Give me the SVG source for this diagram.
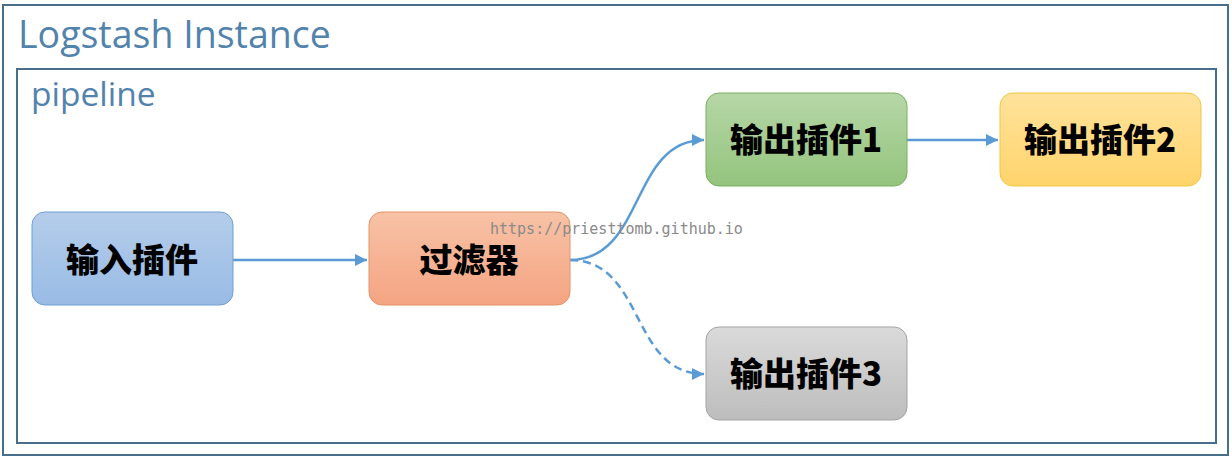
<svg xmlns="http://www.w3.org/2000/svg" width="1232" height="460" viewBox="0 0 1232 460">
<style>
.frame{fill:none;stroke:#476f8c;stroke-width:2}
.title{font-family:"Open Sans","Noto Sans",sans-serif;fill:#5283ad}
.node{stroke-width:1}
.lbl{font-family:"Noto Sans CJK SC","Noto Sans",sans-serif;font-weight:900;font-size:33px;fill:#000;text-anchor:middle}
.conn{fill:none;stroke:#5b9bd5;stroke-width:2.5}
.wm{font-family:"DejaVu Sans Mono",monospace;font-size:15px;fill:#8a8a8a}
</style>
<defs>
<marker id="arr" viewBox="0 0 10 10" refX="10" refY="5" markerWidth="5" markerHeight="5" orient="auto" markerUnits="strokeWidth">
<path d="M0,0 L10,5 L0,10 z" fill="#5b9bd5"/>
</marker>
<linearGradient id="gBlue" x1="0" y1="0" x2="0" y2="1"><stop offset="0" stop-color="#b5cdea"/><stop offset="1" stop-color="#98bbe5"/></linearGradient>
<linearGradient id="gOrange" x1="0" y1="0" x2="0" y2="1"><stop offset="0" stop-color="#f8c2a6"/><stop offset="1" stop-color="#f4a482"/></linearGradient>
<linearGradient id="gGreen" x1="0" y1="0" x2="0" y2="1"><stop offset="0" stop-color="#b6d7a7"/><stop offset="1" stop-color="#93c47d"/></linearGradient>
<linearGradient id="gYellow" x1="0" y1="0" x2="0" y2="1"><stop offset="0" stop-color="#ffe29b"/><stop offset="1" stop-color="#ffd46c"/></linearGradient>
<linearGradient id="gGray" x1="0" y1="0" x2="0" y2="1"><stop offset="0" stop-color="#dadada"/><stop offset="1" stop-color="#bdbdbd"/></linearGradient>
</defs>
<rect width="1232" height="460" fill="#fff"/>
<g id="instance">
<rect class="frame" x="3" y="5" width="1225" height="450"/>
<text class="title" x="18" y="48" font-size="37.5">Logstash Instance</text>
</g>
<g id="pipeline">
<rect class="frame" x="17" y="69" width="1199" height="374"/>
<text class="title" x="31" y="106" font-size="33.5">pipeline</text>
</g>
<g id="connectors">
<path class="conn" d="M233,260 L367,260" marker-end="url(#arr)"/>
<path class="conn" d="M570,260 C645,260 630,140 704,140" marker-end="url(#arr)"/>
<path class="conn" d="M570,260 C645,260 630,374 704,374" stroke-dasharray="8,5" marker-end="url(#arr)"/>
<path class="conn" d="M907,140 L998,140" marker-end="url(#arr)"/>
</g>
<g id="input">
<rect class="node" x="32" y="212" width="201" height="93" rx="13" fill="url(#gBlue)" stroke="#6e9fd6"/>
<text class="lbl" x="132" y="272">输入插件</text>
</g>
<g id="filter">
<rect class="node" x="369" y="212" width="201" height="93" rx="13" fill="url(#gOrange)" stroke="#e49468"/>
<text class="lbl" x="469" y="272">过滤器</text>
</g>
<g id="output1">
<rect class="node" x="706" y="93" width="201" height="93" rx="13" fill="url(#gGreen)" stroke="#7eae62"/>
<text class="lbl" x="806" y="152">输出插件1</text>
</g>
<g id="output2">
<rect class="node" x="1000" y="93" width="201" height="93" rx="13" fill="url(#gYellow)" stroke="#f3c640"/>
<text class="lbl" x="1100" y="152">输出插件2</text>
</g>
<g id="output3">
<rect class="node" x="706" y="327" width="201" height="93" rx="13" fill="url(#gGray)" stroke="#a3a3a3"/>
<text class="lbl" x="806" y="386">输出插件3</text>
</g>
<text class="wm" x="490" y="234">https://priesttomb.github.io</text>
</svg>
